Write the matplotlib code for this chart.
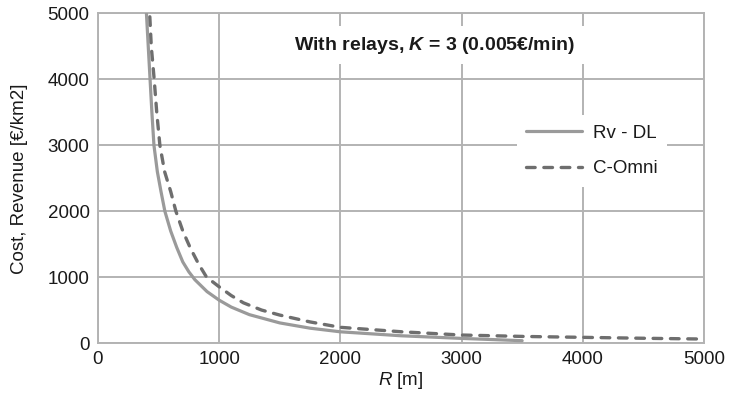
import matplotlib
matplotlib.use('Agg')
import matplotlib.pyplot as plt

# curve data (R in m, value in EUR/km2)
r_rvdl = [400, 415, 430, 445, 462, 490, 520, 552, 600, 650, 700, 750, 800,
          900, 1000, 1100, 1250, 1500, 1750, 2000, 2500, 3000, 3500]
v_rvdl = [5000, 4500, 4000, 3500, 3000, 2600, 2300, 2000, 1700, 1450, 1230,
          1080, 960, 780, 650, 545, 430, 305, 225, 170, 110, 70, 35]

r_comni = [428, 440, 464, 485, 511, 550, 600, 643, 700, 760, 830, 896, 1000,
           1100, 1200, 1350, 1500, 1750, 2000, 2500, 3000, 3500, 4000, 4500, 5000]
v_comni = [4950, 4500, 4000, 3500, 3000, 2600, 2300, 2000, 1700, 1450, 1200,
           1000, 853, 720, 610, 500, 424, 320, 238, 171, 121, 100, 86, 72, 60]

x_ticks = [0, 1000, 2000, 3000, 4000, 5000]
y_ticks = [0, 1000, 2000, 3000, 4000, 5000]

plt.rcParams['font.family'] = ['Liberation Sans', 'DejaVu Sans']
plt.rcParams['mathtext.fontset'] = 'custom'
plt.rcParams['mathtext.rm'] = 'Liberation Sans'
plt.rcParams['mathtext.it'] = 'Liberation Sans:italic'
plt.rcParams['mathtext.bf'] = 'Liberation Sans:bold'
plt.rcParams['mathtext.bfit'] = 'Liberation Sans:italic:bold'

txt = '#1a1a1a'
grid_col = '#b3b3b3'

fig = plt.figure(figsize=(7.31, 3.97), dpi=100)
ax = fig.add_axes([0.134, 0.136, 0.829, 0.830])

ax.plot(r_rvdl, v_rvdl, color='#9a9a9a', lw=2.3, solid_capstyle='round',
        label='Rv - DL', zorder=3)
ax.plot(r_comni, v_comni, color='#6e6e6e', lw=2.4, linestyle=(0, (2.6, 2.6)),
        dash_capstyle='round', label='C-Omni', zorder=4)

ax.set_xlim(0, 5000)
ax.set_ylim(0, 5000)
ax.set_xticks(x_ticks)
ax.set_yticks(y_ticks)
ax.grid(True, color=grid_col, lw=1.4)
ax.set_axisbelow(True)
for s in ax.spines.values():
    s.set_color(grid_col)
    s.set_linewidth(1.4)
ax.tick_params(length=0, labelsize=13.5, colors=txt, pad=6)

ax.set_ylabel('Cost, Revenue [€/km2]', fontsize=13.5, color=txt, labelpad=14)
ax.set_xlabel('$\\mathit{R}$ [m]', fontsize=13.5, color=txt, labelpad=1)

ax.text(0.556, 0.904, 'With relays, $\\mathbfit{K}$ = 3 (0.005€/min)',
        transform=ax.transAxes, ha='center', va='center', fontsize=14,
        fontweight='bold', color=txt,
        bbox=dict(facecolor='white', edgecolor='none', pad=6), zorder=5)

leg = ax.legend(loc='center', bbox_to_anchor=(0.815, 0.583), fontsize=13.5,
                frameon=True, fancybox=False, handlelength=3.0,
                handletextpad=0.55, labelspacing=1.0, borderpad=0.5)
leg.get_frame().set_facecolor('white')
leg.get_frame().set_edgecolor('none')
leg.get_frame().set_alpha(1)
for t in leg.get_texts():
    t.set_color(txt)

fig.savefig('out.png', dpi=100)
